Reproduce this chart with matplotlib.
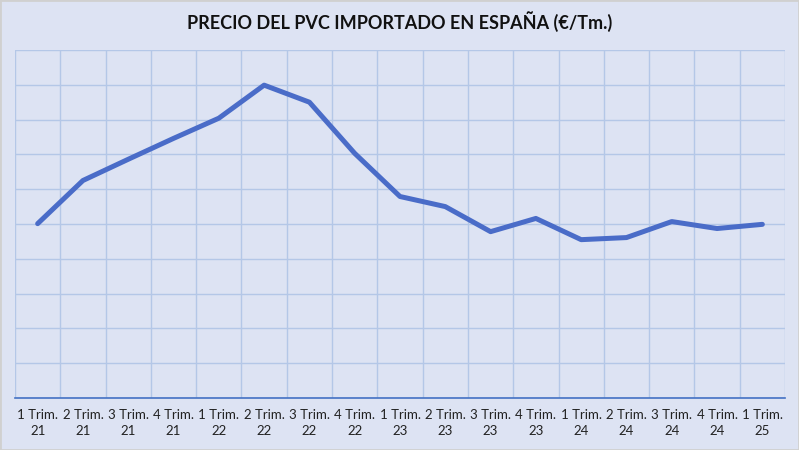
import matplotlib.pyplot as plt
import numpy as np

# --- data (arbitrary €/Tm scale: 100 per gridline) ---
QUARTERS = ["1 Trim.\n21", "2 Trim.\n21", "3 Trim.\n21", "4 Trim.\n21",
            "1 Trim.\n22", "2 Trim.\n22", "3 Trim.\n22", "4 Trim.\n22",
            "1 Trim.\n23", "2 Trim.\n23", "3 Trim.\n23", "4 Trim.\n23",
            "1 Trim.\n24", "2 Trim.\n24", "3 Trim.\n24", "4 Trim.\n24",
            "1 Trim.\n25"]
PRICE = [501, 625, 686, 746, 804, 899, 850, 703,
         579, 550, 478, 516, 455, 461, 507, 487, 499]

BG = "#DDE3F3"
GRID = "#B4C7E7"
LINE = "#4A6CC8"

plt.rcParams['font.family'] = ['Lato', 'DejaVu Sans']

fig = plt.figure(figsize=(7.99, 4.5), dpi=100, facecolor=BG)
ax = fig.add_axes([15 / 799, 1 - 398 / 450, 770 / 799, 348 / 450])
ax.set_facecolor(BG)

x = np.arange(len(QUARTERS))
ax.plot(x, PRICE, color=LINE, linewidth=3.6, solid_capstyle="round",
        solid_joinstyle="round", zorder=3)

ax.set_xlim(-0.5, len(QUARTERS) - 0.5)
ax.set_ylim(0, 1000)
ax.set_yticks(np.arange(0, 1001, 100))
ax.set_yticklabels([])
ax.set_xticks(x)
ax.set_xticklabels(QUARTERS, fontsize=9.5, color="#222222", linespacing=1.35)
ax.set_xticks(np.arange(-0.5, len(QUARTERS), 1), minor=True)
ax.tick_params(axis="both", which="both", length=0)
ax.tick_params(axis="x", pad=8)

ax.grid(axis="y", which="major", color=GRID, linewidth=1)
ax.grid(axis="x", which="minor", color=GRID, linewidth=1)
for side in ["top", "right", "left"]:
    ax.spines[side].set_visible(False)
ax.spines["bottom"].set_color("#4472C4")
ax.spines["bottom"].set_linewidth(1.2)

fig.text(0.5, 1 - 22 / 450, "PRECIO DEL PVC IMPORTADO EN ESPAÑA (€/Tm.)",
         ha="center", va="center", fontsize=13, fontweight="bold", color="#111111")

fig.patches.append(plt.Rectangle((0, 0), 1, 1, transform=fig.transFigure,
                                 fill=False, edgecolor="#D0D0D0", linewidth=2))

fig.savefig("out.png", dpi=100, facecolor=BG)
